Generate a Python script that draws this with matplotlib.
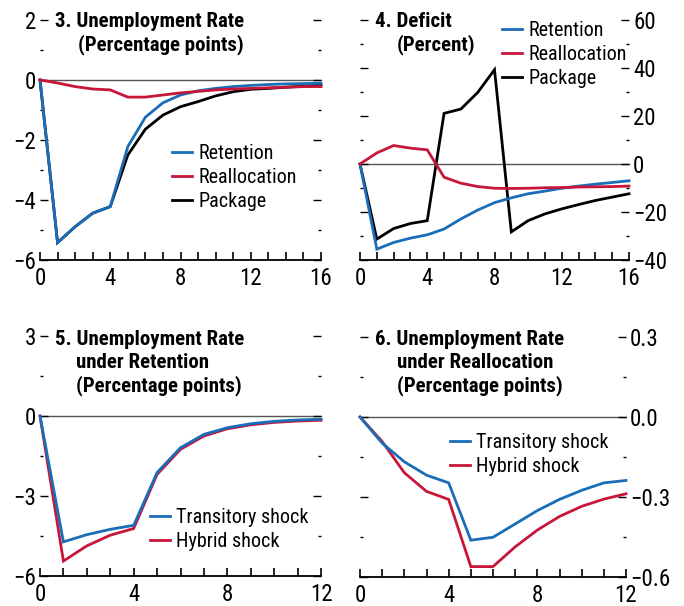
import matplotlib
matplotlib.use("Agg")
import matplotlib.pyplot as plt
from matplotlib.ticker import MultipleLocator, FuncFormatter

plt.rcParams['font.family'] = ['Roboto Condensed', 'Archivo Narrow', 'DejaVu Sans']

# ---------------- data ----------------
q16 = list(range(17))
q12 = list(range(13))

p3_retention = [0, -5.42, -4.89, -4.44, -4.22, -2.22, -1.24, -0.76, -0.5, -0.36, -0.28,
                -0.22, -0.18, -0.15, -0.13, -0.12, -0.11]
p3_reallocation = [0, -0.1, -0.22, -0.3, -0.33, -0.57, -0.57, -0.5, -0.43, -0.38, -0.33,
                   -0.3, -0.28, -0.26, -0.24, -0.22, -0.22]
p3_package = [0, -5.42, -4.89, -4.44, -4.22, -2.5, -1.64, -1.17, -0.89, -0.72, -0.53,
              -0.39, -0.31, -0.28, -0.24, -0.21, -0.17]

p4_retention = [0, -35.5, -32.7, -30.9, -29.5, -27.1, -22.9, -19.2, -16.1, -14.1, -12.4,
                -11.3, -10.1, -9.2, -8.4, -7.7, -7.0]
p4_reallocation = [0, 4.6, 7.7, 6.6, 5.9, -5.5, -8.0, -9.4, -10.1, -10.2, -10.1,
                   -9.9, -9.8, -9.6, -9.5, -9.4, -9.2]
p4_package = [0, -31.3, -26.9, -24.8, -23.6, 21.1, 22.9, 29.8, 39.3, -28.3, -23.6,
              -20.8, -18.7, -16.9, -15.2, -13.8, -12.4]

p5_transitory = [0, -4.72, -4.45, -4.25, -4.1, -2.12, -1.19, -0.69, -0.44, -0.29, -0.2, -0.15, -0.12]
p5_hybrid = [0, -5.44, -4.87, -4.47, -4.22, -2.19, -1.25, -0.75, -0.48, -0.33, -0.24, -0.19, -0.16]

p6_transitory = [0, -0.098, -0.168, -0.218, -0.247, -0.462, -0.451, -0.401, -0.351, -0.309,
                 -0.275, -0.247, -0.238]
p6_hybrid = [0, -0.092, -0.209, -0.279, -0.309, -0.561, -0.561, -0.487, -0.424, -0.373,
             -0.335, -0.308, -0.288]

BLUE = '#1A6DB7'
RED = '#C8163A'
BLACK = '#000000'

W, H = 684, 606
fig = plt.figure(figsize=(W / 100, H / 100), dpi=100)


def ax_px(l, r, t, b):
    return fig.add_axes([l / W, 1 - b / H, (r - l) / W, (b - t) / H])


def style(ax, xmax, xmaj, ylim, ymaj, ymin, side, fmt):
    ax.set_xlim(0, xmax)
    ax.set_ylim(*ylim)
    for s in ['top', 'left', 'right']:
        ax.spines[s].set_visible(False)
    ax.spines['bottom'].set_linewidth(1.3)
    ax.xaxis.set_major_locator(MultipleLocator(xmaj))
    ax.xaxis.set_minor_locator(MultipleLocator(1))
    ax.tick_params(axis='x', which='both', direction='in', length=6, width=1.2,
                   labelsize=16.5, pad=5)
    ax.yaxis.set_major_locator(MultipleLocator(ymaj))
    ax.yaxis.set_minor_locator(MultipleLocator(ymin))
    ax.yaxis.set_major_formatter(FuncFormatter(fmt))
    ax.tick_params(axis='y', which='major', direction='in', length=6, width=1.0,
                   left=True, right=True, labelsize=16.5, pad=3,
                   labelleft=(side == 'left'), labelright=(side == 'right'))
    ax.tick_params(axis='y', which='minor', direction='in', length=2.5, width=1.0,
                   left=True, right=True)
    ax.axhline(0, color='#555555', lw=1.0, zorder=1)


def fint(v, pos):
    return f"{v:.0f}".replace('-', '\u2212')


def f1(v, pos):
    s = f"{v:.1f}"
    if s == '-0.0':
        s = '0.0'
    return s.replace('-', '\u2212')


def title(lines, x0, x1, ys):
    for i, (txt, y) in enumerate(zip(lines, ys)):
        fig.text((x0 if i == 0 else x1) / W, 1 - y / H, txt, fontsize=15,
                 fontweight='bold', va='baseline', ha='left')


def legend(ax, x, ytop):
    ax.legend(loc='upper left', bbox_to_anchor=(x / W, 1 - ytop / H),
              bbox_transform=fig.transFigure, frameon=False, fontsize=14.5,
              handlelength=1.0, handletextpad=0.3, labelspacing=0.25,
              borderpad=0, borderaxespad=0)


LW = 2.0

# Panel 3
ax3 = ax_px(40, 321, 20, 260)
style(ax3, 16, 4, (-6, 2), 2, 1, 'left', fint)
ax3.plot(q16, p3_retention, color=BLUE, lw=LW, label='Retention', zorder=3)
ax3.plot(q16, p3_reallocation, color=RED, lw=LW, label='Reallocation', zorder=3)
ax3.plot(q16, p3_package, color=BLACK, lw=LW, label='Package', zorder=2)
legend(ax3, 172, 144)
title(['3. Unemployment Rate', '(Percentage points)'], 55, 78, [27, 50])

# Panel 4
ax4 = ax_px(360, 629, 20, 260)
style(ax4, 16, 4, (-40, 60), 20, 10, 'right', fint)
ax4.plot(q16, p4_retention, color=BLUE, lw=LW, label='Retention', zorder=3)
ax4.plot(q16, p4_reallocation, color=RED, lw=LW, label='Reallocation', zorder=3)
ax4.plot(q16, p4_package, color=BLACK, lw=LW, label='Package', zorder=2)
legend(ax4, 502, 21)
title(['4. Deficit', '(Percent)'], 375, 397, [27, 50])

# Panel 5
ax5 = ax_px(40, 321, 336, 576)
style(ax5, 12, 4, (-6, 3), 3, 1.5, 'left', fint)
ax5.plot(q12, p5_transitory, color=BLUE, lw=LW, label='Transitory shock', zorder=3)
ax5.plot(q12, p5_hybrid, color=RED, lw=LW, label='Hybrid shock', zorder=2)
legend(ax5, 150, 508)
title(['5. Unemployment Rate', 'under Retention', '(Percentage points)'], 55, 76,
      [345, 368, 391])

# Panel 6
ax6 = ax_px(360, 626, 337, 577)
style(ax6, 12, 4, (-0.6, 0.3), 0.3, 0.15, 'right', f1)
ax6.plot(q12, p6_transitory, color=BLUE, lw=LW, label='Transitory shock', zorder=3)
ax6.plot(q12, p6_hybrid, color=RED, lw=LW, label='Hybrid shock', zorder=2)
legend(ax6, 450, 433)
title(['6. Unemployment Rate', 'under Reallocation', '(Percentage points)'], 375, 397,
      [345, 368, 391])

for ax in (ax3, ax4, ax5, ax6):
    for ln in ax.lines:
        ln.set_clip_on(False)
        ln.set_solid_joinstyle('miter')

fig.savefig('out.png', dpi=100)
